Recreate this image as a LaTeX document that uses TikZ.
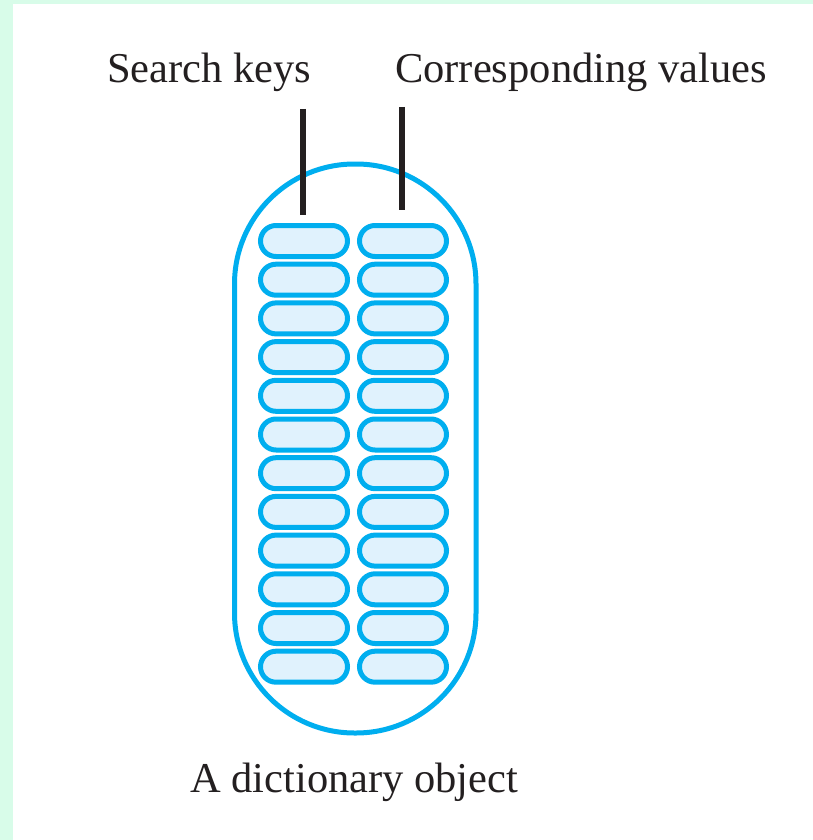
\documentclass[tikz,border=0pt]{standalone}
\usepackage{fontspec}
\setmainfont{Liberation Serif}
\definecolor{mint}{RGB}{216,252,233}
\definecolor{cyanline}{RGB}{0,174,239}
\definecolor{cellfill}{RGB}{224,242,253}
\definecolor{ink}{RGB}{35,31,32}
\begin{document}
\begin{tikzpicture}[x=1pt,y=-1pt,
  cell/.style={draw=cyanline, fill=cellfill, line width=5pt, minimum width=87pt, minimum height=31pt, rounded corners=15.5pt, inner sep=0pt},
  lbl/.style={anchor=base west, text=ink, font=\fontsize{42.5}{50}\selectfont, inner sep=0pt},
  pointer/.style={draw=ink, line width=6pt}]
\useasboundingbox (0,0) rectangle (813,840);
\fill[white] (0,0) rectangle (813,840);
\fill[mint] (0,0) rectangle (813,4);
\fill[mint] (0,0) rectangle (13,840);
% container
\draw[cyanline, line width=5pt, rounded corners=120pt] (234.5,164) rectangle (476,733);
% cells
\foreach \i in {1,...,12}{
  \node[cell] (k\i) at (304,{241+(\i-1)*38.7}) {};
  \node[cell] (v\i) at (403,{241+(\i-1)*38.7}) {};
}
% labels
\node[lbl] (keys) at (107,83) {Search keys};
\node[lbl] (vals) at (395,83) {Corresponding values};
\node[lbl] (dict) at (190,792) {A dictionary object};
% pointers
\coordinate (kp) at (302.5,109);
\coordinate (ke) at (302.5,215);
\coordinate (vp) at (401.5,107);
\coordinate (ve) at (401.5,210);
\draw[pointer] (kp) -- (ke);
\draw[pointer] (vp) -- (ve);
\end{tikzpicture}
\end{document}
